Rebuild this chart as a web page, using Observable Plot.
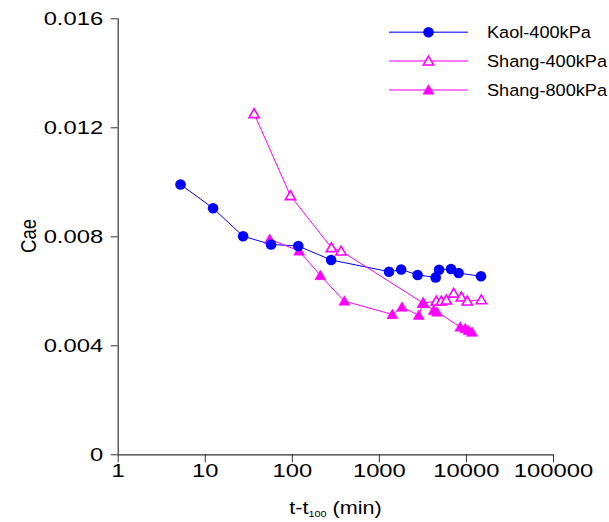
<!DOCTYPE html>
<html>
<head>
<meta charset="utf-8">
<script src="https://cdn.jsdelivr.net/npm/d3@7"></script>
<script src="https://cdn.jsdelivr.net/npm/@observablehq/plot@0.6"></script>
<style>
  html, body { margin: 0; padding: 0; background: #fff; }
  #chart svg { display: block; }
</style>
</head>
<body>
<div id="chart"></div>
<script>
// ---- data ----
const xTicks = [1, 10, 100, 1000, 10000, 100000];
const yTicks = [0, 0.004, 0.008, 0.012, 0.016];

const seriesNames = ["Kaol-400kPa", "Shang-400kPa", "Shang-800kPa"];

const kaolT = [5.2, 12.3, 27.2, 57, 117, 279, 1290, 1780, 2750, 4430, 4850, 6650, 8130, 14700];
const kaolC = [0.00992, 0.00905, 0.00802, 0.00772, 0.00766, 0.00715, 0.00672, 0.00680, 0.00660, 0.00651, 0.00679, 0.00682, 0.00667, 0.00655];

const shang4T = [36.4, 95, 281, 363, 3180, 4510, 5150, 5880, 7130, 8740, 10240, 14830];
const shang4C = [0.01252, 0.00951, 0.00760, 0.00748, 0.00557, 0.00564, 0.00564, 0.00568, 0.00593, 0.00579, 0.00564, 0.00569];

const shang8T = [55, 120, 210, 396, 1410, 1820, 2830, 3180, 4200, 4600, 8500, 9700, 10600, 11600];
const shang8C = [0.00791, 0.00748, 0.00658, 0.00564, 0.00515, 0.00542, 0.00512, 0.00555, 0.00530, 0.00524, 0.00469, 0.00463, 0.00456, 0.00450];

// ---- build tables ----
const toRows = (ts, cs) => ts.map((t, i) => ({t, c: cs[i]}));
const kaol = toRows(kaolT, kaolC);
const shang4 = toRows(shang4T, shang4C);
const shang8 = toRows(shang8T, shang8C);

const BLUE = "#0000ff";
const MAG = "#ff00ff";
const AXIS = "#333333";
const FONT = "'Liberation Sans', Arial, Helvetica, sans-serif";
const TICK_FS = 18.6;
const STRETCH = 1.28;

const chart = Plot.plot({
  width: 609,
  height: 522,
  marginLeft: 117.7,
  marginRight: 56,
  marginTop: 18.3,
  marginBottom: 67.7,
  style: {fontFamily: FONT, fontSize: TICK_FS + "px", color: "#000", background: "#fff", overflow: "visible"},
  x: {type: "log", domain: [1, 100000]},
  y: {domain: [0, 0.016]},
  marks: [
    Plot.axisX({ticks: xTicks, tickSize: 8, tickPadding: 1, stroke: AXIS, fill: "#000",
                tickFormat: d => String(d), label: null, fontSize: TICK_FS}),
    Plot.axisY({ticks: yTicks, tickSize: 7, tickPadding: 8, stroke: AXIS, fill: "#000",
                tickFormat: d => d === 0 ? "0" : d3.format(".3f")(d), label: null, fontSize: TICK_FS}),
    Plot.ruleX([1], {stroke: AXIS, strokeWidth: 1.2}),
    Plot.ruleY([0], {stroke: AXIS, strokeWidth: 1.2}),
    // lines
    Plot.line(kaol, {x: "t", y: "c", stroke: BLUE, strokeWidth: 1}),
    Plot.line(shang4, {x: "t", y: "c", stroke: MAG, strokeWidth: 1}),
    Plot.line(shang8, {x: "t", y: "c", stroke: MAG, strokeWidth: 1}),
    // markers
    Plot.dot(shang4, {x: "t", y: "c", symbol: "triangle", r: 3.8, stroke: MAG, strokeWidth: 1.6, fill: "white", dy: 1}),
    Plot.dot(shang8, {x: "t", y: "c", symbol: "triangle", r: 4.1, fill: MAG, stroke: MAG, strokeWidth: 0.5, dy: 1}),
    Plot.dot(kaol, {x: "t", y: "c", symbol: "circle", r: 5.3, fill: BLUE, stroke: "none"})
  ]
});

document.getElementById("chart").appendChild(chart);

// widen tick label glyphs horizontally (reference text is horizontally stretched)
d3.select(chart).selectAll('g[aria-label="x-axis tick label"] text, g[aria-label="y-axis tick label"] text')
  .each(function() {
    let t = this.getAttribute("transform");
    if (!t) {
      const x = +(this.getAttribute("x") || 0), y = +(this.getAttribute("y") || 0);
      this.removeAttribute("x"); this.removeAttribute("y");
      t = `translate(${x},${y})`;
    }
    this.setAttribute("transform", `${t} scale(${STRETCH},1)`);
  });

// ---- axis titles and legend (text added to the same SVG) ----
const svg = d3.select(chart);

svg.append("text")
  .attr("transform", `translate(29,236) rotate(-90) scale(1,1.15)`)
  .attr("text-anchor", "middle")
  .attr("dy", "0.35em")
  .attr("font-family", FONT)
  .attr("font-size", 18.5)
  .attr("fill", "#000")
  .text("Cae");

const xt = svg.append("text")
  .attr("transform", "translate(335.5,514) scale(1.2,1)")
  .attr("text-anchor", "middle")
  .attr("font-family", FONT)
  .attr("font-size", 18)
  .attr("fill", "#000");
xt.append("tspan").text("t-t");
xt.append("tspan").attr("font-size", 9).attr("dy", 3).text("100");
xt.append("tspan").attr("dy", -3).text(" (min)");

const legendItems = [
  {name: seriesNames[0], color: BLUE, symbol: d3.symbolCircle, size: Math.PI * 5.3 * 5.3, fill: BLUE, sw: 0, y: 32.3, lineColor: "#4d4dff"},
  {name: seriesNames[1], color: MAG, symbol: d3.symbolTriangle, size: Math.PI * 3.8 * 3.8, fill: "white", sw: 1.6, y: 61, lineColor: "#ff4dff"},
  {name: seriesNames[2], color: MAG, symbol: d3.symbolTriangle, size: Math.PI * 4.1 * 4.1, fill: MAG, sw: 0.5, y: 90, lineColor: "#ff4dff"}
];
const lg = svg.append("g").attr("font-family", FONT).attr("font-size", 16.5).attr("text-anchor", "start");
legendItems.forEach(it => {
  lg.append("line").attr("x1", 389).attr("x2", 468).attr("y1", it.y).attr("y2", it.y)
    .attr("stroke", it.lineColor).attr("stroke-width", 1.6);
  lg.append("path").attr("d", d3.symbol(it.symbol, it.size)())
    .attr("transform", `translate(428.5,${it.y + (it.symbol === d3.symbolTriangle ? 1 : 0)})`)
    .attr("fill", it.fill).attr("stroke", it.color).attr("stroke-width", it.sw);
  lg.append("text").attr("transform", `translate(487,${it.y}) scale(1.1,1)`).attr("dy", "0.35em")
    .attr("text-anchor", "start").attr("fill", "#000").text(it.name);
});
</script>
</body>
</html>
